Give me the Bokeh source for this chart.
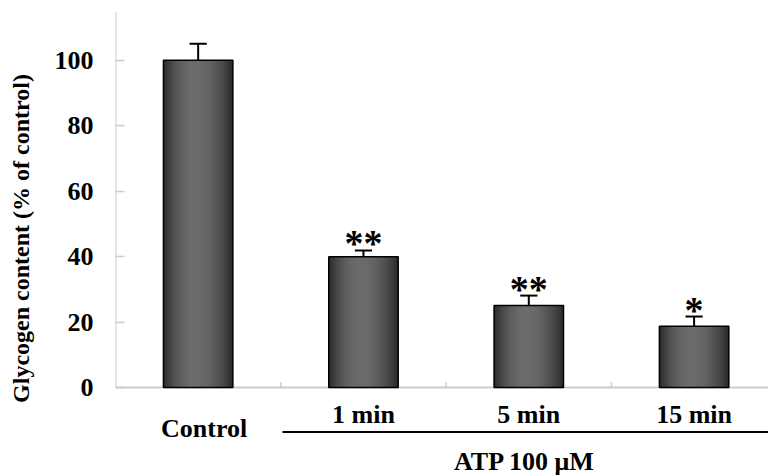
import numpy as np
from bokeh.plotting import figure
from bokeh.models import Range1d, FixedTicker
from bokeh.core.properties import value
from bokeh.embed import file_html
from bokeh.resources import INLINE

# ---- data ----
categories = ["Control", "1 min", "5 min", "15 min"]
values = [100.0, 40.0, 25.1, 18.7]
errors = [5.1, 1.9, 3.0, 3.0]
stars = ["", "**", "**", "*"]
y_ticks = [0, 20, 40, 60, 80, 100]
y_label = "Glycogen content (% of control)"
group_label = "ATP 100 \u03bcM"

FONT = value("Liberation Serif")
n = len(categories)
xs = [i + 0.5 for i in range(n)]
X_END = 3.95
Y_TOP = 118.3
Y_BOT = -27.2

p = figure(width=768, height=476, output_backend="svg", toolbar_location=None,
           x_range=Range1d(0, X_END), y_range=Range1d(Y_BOT, Y_TOP),
           min_border_left=115, min_border_right=0, min_border_top=0,
           min_border_bottom=0)
p.outline_line_color = None
p.xgrid.visible = False
p.ygrid.visible = False
p.xaxis.visible = False
p.background_fill_color = "white"
p.border_fill_color = "white"

yax = p.yaxis[0]
yax.ticker = FixedTicker(ticks=y_ticks)
yax.axis_line_color = None
yax.major_tick_in = 9
yax.major_tick_out = 0
yax.major_tick_line_color = "#cccccc"
yax.major_tick_line_width = 1.5
yax.minor_tick_line_color = None
yax.major_label_text_font = "Liberation Serif"
yax.major_label_text_font_style = "bold"
yax.major_label_text_font_size = "26px"
yax.major_label_text_color = "black"
yax.major_label_standoff = 22
yax.axis_label = y_label
yax.axis_label_text_font = "Liberation Serif"
yax.axis_label_text_font_style = "bold"
yax.axis_label_text_font_size = "24px"
yax.axis_label_text_color = "black"
yax.axis_label_standoff = 18

# axis lines (light gray)
p.segment(x0=[0], y0=[0], x1=[0], y1=[Y_TOP - 3.5], line_color="#cccccc", line_width=2)
p.segment(x0=[0], y0=[0], x1=[X_END], y1=[0], line_color="#cccccc", line_width=2)
seps = [float(i) for i in range(1, n)]
p.segment(x0=seps, y0=[0] * len(seps), x1=seps, y1=[1.6] * len(seps),
          line_color="#cccccc", line_width=1.5)

# bars with horizontal gradient (overlapping strips)
W = 0.42
NS = 40
dark, light = 0x2a, 0x6c
peak = 0.45
for i in range(n):
    x0 = xs[i] - W / 2
    x1 = xs[i] + W / 2
    lefts, rights, cols = [], [], []
    for k in range(NS):
        t = (k + 0.5) / NS
        if t < peak:
            f = 1 - ((peak - t) / peak) ** 2
        else:
            f = 1 - ((t - peak) / (1 - peak)) ** 2
        g = int(dark + (light - dark) * f)
        cols.append("#%02x%02x%02x" % (g, g, g))
        lefts.append(x0 + k * W / NS)
        rights.append(min(x0 + (k + 2.5) * W / NS, x1))
    p.quad(left=lefts, right=rights, top=[values[i]] * NS, bottom=[0] * NS,
           fill_color=cols, line_color=None)
p.vbar(x=xs, width=W, top=values, bottom=0, fill_color=None, line_color="black", line_width=1.5)

# error bars
tops = [v + e for v, e in zip(values, errors)]
cap = 0.052
p.segment(x0=xs, y0=values, x1=xs, y1=tops, line_color="black", line_width=2)
p.segment(x0=[x - cap for x in xs], y0=tops, x1=[x + cap for x in xs], y1=tops,
          line_color="black", line_width=2)

# significance stars
p.text(x=xs, y=tops, text=stars, text_font=FONT, text_font_style="bold",
       text_font_size="38px", text_align="center", text_baseline="alphabetic",
       y_offset=-7, text_color="black")

# category labels
p.text(x=xs[:1], y=[-12.55], text=categories[:1], text_font=FONT, text_font_style="bold",
       text_font_size="26px", text_align="center", text_baseline="alphabetic",
       x_offset=6, text_color="black")
p.text(x=xs[1:], y=[-8.25] * (n - 1), text=categories[1:], text_font=FONT,
       text_font_style="bold", text_font_size="26px", text_align="center",
       text_baseline="alphabetic", text_color="black")

# group underline and label
p.segment(x0=[1.01], y0=[-13.6], x1=[X_END], y1=[-13.6], line_color="black", line_width=2)
p.text(x=[(1.0 + X_END) / 2], y=[-22.6], text=[group_label], text_font=FONT,
       text_font_style="bold", text_font_size="26px", text_align="center",
       text_baseline="alphabetic", text_color="black")

open("out.html", "w").write(file_html(p, INLINE))
